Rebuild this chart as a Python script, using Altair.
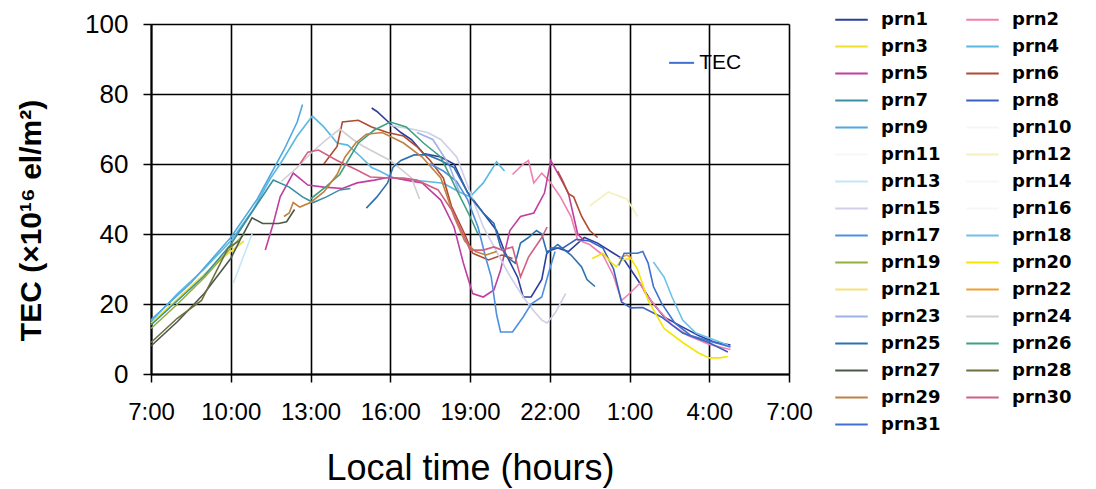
import altair as alt
import pandas as pd

# ---------------- data (hours since 0:00 of day 1; values in TECU) ----------------
prn_names = [f"prn{i}" for i in range(1, 32)]
prn_colors = ["#2b3f9e", "#f080b0", "#f0e030", "#5bb8e0", "#c03fa0", "#b04a30", "#3a8fa0", "#3a60c0",
              "#4fa8e0", "#f6f6f6", "#f7f7f7", "#f5f0c0", "#c6e6f6", "#f7f7f7", "#cfcfe8", "#f7f7f7",
              "#4f8fe0", "#6ec0e8", "#90b040", "#f5e600", "#f6e27c", "#f0a030", "#a0b0e8", "#cfcfcf",
              "#2f70b0", "#3fa080", "#4a5a48", "#6f6f40", "#c08040", "#d06080", "#4070d0"]

prn1_h = [15.3, 15.5, 16.0, 16.4, 16.8, 17.25, 17.9, 18.4, 18.9, 19.4, 20.0, 20.3, 20.8, 21.0, 21.3, 21.7, 21.9,
          22.3, 22.7, 23.3, 23.8, 24.4, 24.8, 25.3, 25.8, 26.3, 27.0, 27.6, 28.2, 28.8]
prn1_v = [76, 75, 71.5, 69, 67, 63, 62, 60, 52, 47, 41, 35, 27.5, 22, 22, 27, 35,
          36, 35, 39, 37.4, 34.5, 32.6, 27, 21, 16.3, 13.4, 11, 9.1, 8.3]
prn2_h = [20.6, 21.0, 21.2, 21.4, 21.7, 22.0, 22.4, 22.8, 23.05, 23.5, 24.0, 24.4, 24.7, 25.0, 25.4, 25.6, 26.1,
          26.6, 27.2, 28.0, 28.8]
prn2_v = [57, 60, 61, 54.6, 57.4, 55, 50.6, 45, 38.3, 37, 34, 28, 21, 23, 26, 23, 18.3, 14, 11, 8.4, 7]
prn3_h = [7.0, 8.0, 9.0, 9.5, 10.0, 10.5]
prn3_v = [14.5, 21.5, 28.5, 32, 35, 38]
prn4_h = [7.0, 8.0, 9.0, 10.0, 10.85, 11.5, 11.86, 12.5, 13.07, 13.5, 14.0, 14.4, 14.9, 15.3, 15.6, 16.1, 16.7,
          17.4, 18.0, 18.6, 19.0, 19.5, 20.0, 20.3]
prn4_v = [15, 23, 30, 38, 47, 56, 60, 68, 73.7, 70.6, 66, 65.4, 62, 59, 58, 56, 55.5,
          55, 54.5, 52, 50.6, 54.6, 60.6, 58]
prn5_h = [11.3, 11.6, 11.86, 12.35, 12.9, 13.5, 14.2, 14.75, 15.4, 16.0, 16.6, 17.2, 17.9, 18.4, 18.75, 19.1,
          19.5, 19.9, 20.15, 20.5, 20.9, 21.4, 21.8, 22.04, 22.3, 22.7, 23.05, 23.3]
prn5_v = [35.4, 43, 50.6, 57.4, 54, 53.4, 53, 54.6, 55.4, 56.3, 55.4, 54.6, 49.7, 42, 31.7, 23,
          22, 24, 29.7, 41, 45, 46, 51.7, 61, 57.4, 51.7, 40, 38]
prn6_h = [13.5, 14.0, 14.2, 14.8, 15.3, 15.9, 16.5, 17.0, 17.5, 18.0, 18.3, 18.8, 19.1, 19.7, 20.2, 20.6]
prn6_v = [60, 65, 72, 72.5, 70.6, 69, 68, 65, 61, 56, 48, 40, 34.5, 32.6, 34, 33]
prn6b_h = [22.3, 22.5, 22.7, 22.9, 23.2, 23.5, 23.8]
prn6b_v = [58, 55, 51.5, 50.6, 45, 41, 39]
prn7_h = [7.0, 8.0, 9.0, 10.0, 10.6, 11.1, 11.6, 12.2, 12.7, 13.1, 13.6, 14.1, 14.5]
prn7_v = [14, 21, 28, 37, 44, 49.7, 55.4, 53.4, 50.6, 49, 50.6, 52.6, 53]
prn8_h = [22.0, 22.5, 23.0, 23.5, 24.0, 24.4, 24.7, 25.05, 25.5, 26.2, 27.0, 28.0, 28.7]
prn8_v = [36, 36, 38.5, 38, 36, 30, 20.6, 18.9, 19, 16.3, 11.7, 8.9, 6.3]
prn9_h = [7.0, 8.5, 10.0, 11.0, 12.0, 12.5, 12.7]
prn9_v = [15.5, 26, 39, 50, 64, 72, 77]
prn12_h = [23.5, 24.2, 24.9, 25.3]
prn12_v = [48, 52, 50, 45]
prn13_h = [10.1, 10.4, 10.8]
prn13_v = [26, 32, 40]
prn15_h = [16.0, 16.8, 17.4, 17.9, 18.5, 19.0, 19.5, 20.0, 20.5, 21.0, 21.4, 21.7, 21.9, 22.2, 22.6]
prn15_v = [71, 70, 69, 67, 62, 52, 42, 35, 28, 22, 18, 15.4, 14.6, 17.4, 23]
prn17_h = [17.5, 18.0, 18.5, 18.9, 19.3, 19.6, 19.8, 20.0, 20.15, 20.6, 21.0, 21.3, 21.7, 22.0, 22.2]
prn17_v = [60, 58, 55, 50, 42, 33, 27.7, 17, 12, 12, 16.3, 20, 22, 30, 35]
prn18_h = [25.9, 26.3, 26.6, 27.0, 27.5, 28.2, 28.7]
prn18_v = [32, 27.7, 22, 15.4, 11.7, 9.7, 8.3]
prn19_h = [7.0, 8.0, 9.0, 10.0, 10.5]
prn19_v = [13, 20, 27.5, 36, 40]
prn20_h = [23.6, 24.0, 24.3, 24.5, 24.7, 25.05, 25.3, 25.7, 26.3, 27.0, 27.6, 28.0, 28.4, 28.7]
prn20_v = [33, 34.5, 32, 30.6, 32.6, 33, 30, 21, 13, 9, 6, 4.6, 4.6, 5]
prn22_h = [24.6, 24.9, 25.1]
prn22_v = [33, 34, 33]
prn23_h = [17.0, 17.6, 18.2, 18.6]
prn23_v = [69, 67, 60, 52]
prn24_h = [11.9, 12.5, 13.0, 13.6, 14.1, 14.6, 15.0, 15.5, 16.0, 16.8, 17.1]
prn24_v = [55, 59, 63, 67, 70, 67, 65, 63, 61, 56, 50]
prn25_h = [15.1, 15.5, 15.9, 16.1, 16.4, 16.9, 17.4, 17.9, 18.4, 19.0, 19.5, 19.9, 20.15, 20.4, 20.7, 20.9,
           21.2, 21.5, 21.7, 21.9, 22.3, 22.8, 23.2, 23.4, 23.7]
prn25_v = [47.4, 50.6, 54.6, 59, 61, 62.6, 62.6, 61, 59, 50.6, 46, 43, 36.3, 33.4, 31.7, 37.4,
           39, 41, 40, 34.5, 37, 34, 30.6, 27, 25]
prn26_h = [13.0, 13.5, 14.1, 14.8, 15.4, 16.0, 16.6, 17.25, 17.9, 18.5, 19.0, 19.3]
prn26_v = [50, 53, 57, 66, 69.7, 72, 70.6, 66, 62, 52.6, 45, 40]
prn27_h = [7.0, 8.0, 9.0, 9.7, 10.0, 10.4, 10.8, 11.2, 11.8, 12.1, 12.4]
prn27_v = [8, 15, 23, 30, 33, 39, 44.6, 43, 43, 43.5, 47]
prn28_h = [7.0, 8.0, 8.9, 9.9, 10.3]
prn28_v = [9, 16, 21, 36, 38]
prn29_h = [12.0, 12.2, 12.35, 12.6, 13.0, 13.5, 14.0, 14.3, 14.7, 15.1, 15.7, 16.5, 17.2, 17.9, 18.4, 18.8,
           19.2, 19.6, 20.0]
prn29_v = [45, 46, 49, 47.7, 49, 52, 57, 62, 66, 68.5, 69, 66, 62, 56, 45, 38, 35, 34, 35]
prn30_h = [12.6, 12.9, 13.3, 14.0, 14.75, 15.25, 16.0, 16.5, 17.0, 17.8, 18.3, 18.8, 19.0, 19.5, 19.9, 20.2,
           20.6, 20.9, 21.2, 21.7, 21.9]
prn30_v = [60, 63.4, 64, 61, 58.3, 56.3, 56, 56, 55.4, 52.6, 47, 39, 35.4, 35.4, 36.3, 35.4,
           36.3, 27.7, 33.4, 39, 42]
prn31_h = [24.6, 24.8, 25.3, 25.5, 25.7, 25.9, 26.2, 26.7, 27.3, 28.2, 28.8]
prn31_v = [31, 34.5, 34.5, 35, 31.7, 25, 20.3, 14.6, 11, 9, 7.7]

x_ticks = [7, 10, 13, 16, 19, 22, 25, 28, 31]
y_ticks = [0, 20, 40, 60, 80, 100]
key_h = [26.49, 27.43]
key_v = [88.9, 88.9]
key_text_h = [27.62]
key_text_v = [88.9]

segments = [
    ("prn1", prn1_h, prn1_v), ("prn2", prn2_h, prn2_v), ("prn3", prn3_h, prn3_v), ("prn4", prn4_h, prn4_v),
    ("prn5", prn5_h, prn5_v), ("prn6", prn6_h, prn6_v), ("prn6", prn6b_h, prn6b_v), ("prn7", prn7_h, prn7_v),
    ("prn8", prn8_h, prn8_v), ("prn9", prn9_h, prn9_v), ("prn12", prn12_h, prn12_v), ("prn13", prn13_h, prn13_v),
    ("prn15", prn15_h, prn15_v), ("prn17", prn17_h, prn17_v), ("prn18", prn18_h, prn18_v),
    ("prn19", prn19_h, prn19_v), ("prn20", prn20_h, prn20_v), ("prn22", prn22_h, prn22_v),
    ("prn23", prn23_h, prn23_v), ("prn24", prn24_h, prn24_v), ("prn25", prn25_h, prn25_v),
    ("prn26", prn26_h, prn26_v), ("prn27", prn27_h, prn27_v), ("prn28", prn28_h, prn28_v),
    ("prn29", prn29_h, prn29_v), ("prn30", prn30_h, prn30_v), ("prn31", prn31_h, prn31_v),
]

rows = []
for si, (name, hs, vs) in enumerate(segments):
    for i, (h, v) in enumerate(zip(hs, vs)):
        rows.append({"prn": name, "seg": si, "i": i, "h": h, "v": v})
df = pd.DataFrame(rows)

FONT = "Liberation Sans, Arial, sans-serif"
common_axis = dict(grid=True, gridColor="black", gridWidth=1.6, gridOpacity=1,
                   domainColor="black", domainWidth=2, tickColor="black", tickWidth=1.5,
                   labelColor="black", titleColor="black", labelFont=FONT, titleFont=FONT, tickSize=8)

x_enc = alt.X("h:Q", scale=alt.Scale(domain=[7, 31], nice=False, zero=False),
              axis=alt.Axis(values=x_ticks, labelExpr="(datum.value % 24) + ':00'",
                            title="Local time (hours)", titleFontSize=36, titleFontWeight="normal",
                            titlePadding=27, labelFontSize=24, labelPadding=18,
                            labelFlush=False, labelOverlap=False, **common_axis))
y_enc = alt.Y("v:Q", scale=alt.Scale(domain=[0, 100], nice=False),
              axis=alt.Axis(values=y_ticks, title="TEC (×10¹⁶ el/m²)", titleFontSize=30,
                            titleFontWeight="bold", titlePadding=38, titleY=196,
                            labelFontSize=26, labelPadding=15, **common_axis))

lines = alt.Chart(df).mark_line(strokeWidth=1.6, interpolate="linear").encode(
    x=x_enc,
    y=y_enc,
    color=alt.Color("prn:N", scale=alt.Scale(domain=prn_names, range=prn_colors),
                    legend=alt.Legend(title=None, orient="none", legendX=683, legendY=-22, columns=2,
                                      direction="horizontal", symbolLimit=0,
                                      symbolType="stroke", symbolSize=1056, symbolStrokeWidth=2,
                                      labelFontSize=18, labelFont="DejaVu Sans", labelFontWeight="bold",
                                      labelColor="black", columnPadding=21, rowPadding=0,
                                      labelOffset=12, labelLimit=200)),
    detail="seg:N",
    order="i:Q",
)

key_df = pd.DataFrame({"h": key_h, "v": key_v})
key_line = alt.Chart(key_df).mark_line(color="#4070d0", strokeWidth=2).encode(x="h:Q", y="v:Q")
key_text = alt.Chart(pd.DataFrame({"h": key_text_h, "v": key_text_v, "t": ["TEC"]})).mark_text(
    align="left", baseline="middle", fontSize=21, font=FONT, color="black").encode(x="h:Q", y="v:Q", text="t:N")

chart = alt.layer(lines, key_line, key_text).properties(
    width=638, height=350,
    padding={"left": 151, "top": 24, "right": 307, "bottom": 115},
    autosize=alt.AutoSizeParams(type="none"),
).configure_view(stroke="black", strokeWidth=2).configure(background="white")

chart.save("out.html", embed_options={"renderer": "svg", "actions": False})
